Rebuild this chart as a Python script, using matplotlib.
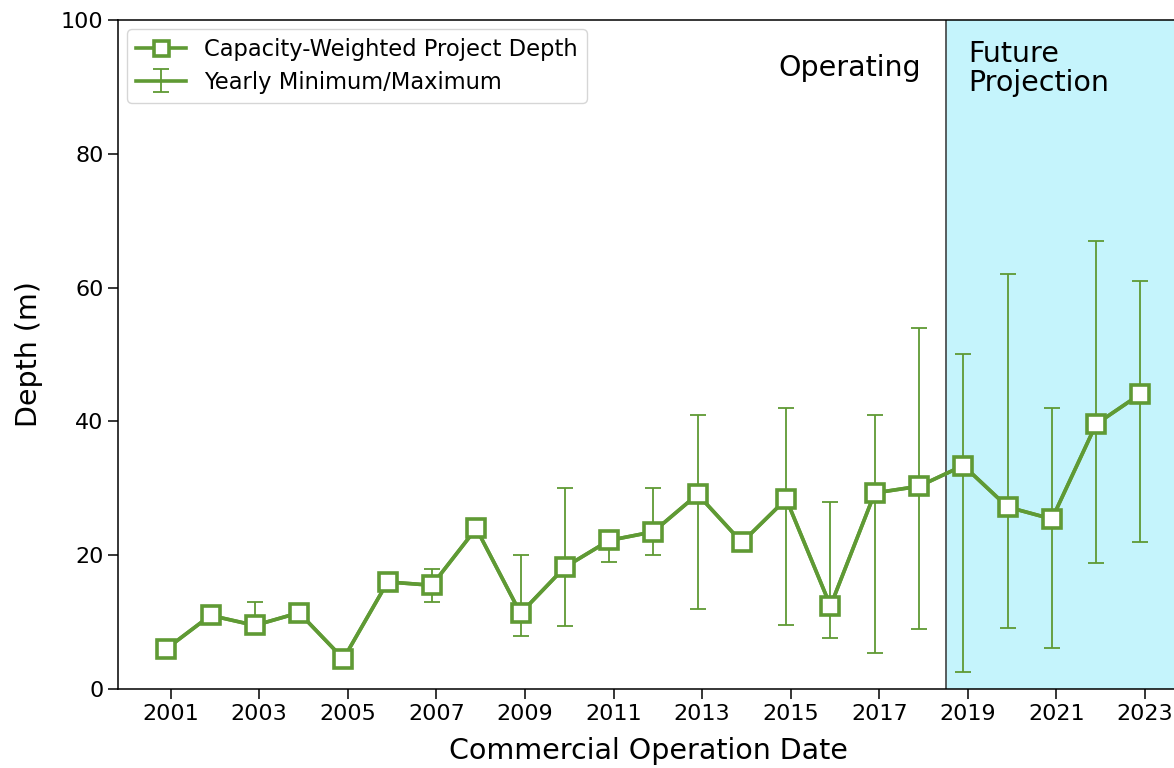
import matplotlib.pyplot as plt
import numpy as np

# capacity-weighted depth per commercial operation year
years = [2001, 2002, 2003, 2004, 2005, 2006, 2007, 2008, 2009, 2010, 2011, 2012,
         2013, 2014, 2015, 2016, 2017, 2018, 2019, 2020, 2021, 2022, 2023]
depth = [6.0, 11.0, 9.5, 11.4, 4.5, 16.0, 15.5, 24.0, 11.3, 18.2, 22.2, 23.5,
         29.1, 21.9, 28.4, 12.4, 29.3, 30.3, 33.4, 27.2, 25.4, 39.6, 44.1]
depth_min = [6.0, 11.0, 9.0, 11.4, 4.5, 16.0, 13.0, 24.0, 7.9, 9.4, 19.0, 20.0,
             11.9, 21.9, 9.5, 7.6, 5.4, 9.0, 2.6, 9.1, 6.1, 18.8, 22.0]
depth_max = [6.0, 11.0, 13.0, 11.4, 4.5, 16.0, 18.0, 24.0, 20.0, 30.0, 23.0, 30.0,
             41.0, 21.9, 42.0, 28.0, 41.0, 54.0, 50.0, 62.0, 42.0, 67.0, 61.0]
split_year = 2018.5

green = '#5f9a34'

x = np.array(years) - 0.1
y = np.array(depth)
err = [y - np.array(depth_min), np.array(depth_max) - y]

fig = plt.figure(figsize=(11.74, 7.68), dpi=100)
ax = fig.add_axes([0.1005, 0.1029, 0.903, 0.8711])

ax.axvspan(split_year, 2030, color='#c5f4fc', zorder=0)
ax.axvline(split_year, color='#333333', lw=1.1, zorder=1)

eb = ax.errorbar(x, y, yerr=err, fmt='-', color=green, lw=2.6, ecolor=green,
                 elinewidth=1.3, capsize=6, capthick=1.3, zorder=2)
ln, = ax.plot(x, y, color=green, lw=2.6, marker='s', markersize=13.5,
              markerfacecolor='white', markeredgecolor=green, markeredgewidth=2.6,
              zorder=3)

ax.text(0.7575, 0.928, 'Operating', transform=ax.transAxes, fontsize=20.5,
        ha='right', va='center')
ax.text(0.802, 0.928, 'Future\nProjection', transform=ax.transAxes, fontsize=20.5,
        ha='left', va='center', linespacing=1.05)

ax.set_xlim(1999.81, 2023.75)
ax.set_ylim(0, 100)
ax.set_xticks(range(2001, 2024, 2))
ax.set_yticks(range(0, 101, 20))
ax.tick_params(labelsize=16, length=7, width=1.1)
for s in ax.spines.values():
    s.set_linewidth(1.1)
ax.set_xlabel('Commercial Operation Date', fontsize=20.5, labelpad=10)
ax.set_ylabel('Depth (m)', fontsize=20.5, labelpad=13)

leg = ax.legend([ln, eb], ['Capacity-Weighted Project Depth', 'Yearly Minimum/Maximum'],
                loc='upper left', fontsize=16.3, markerscale=0.8,
                borderaxespad=0.4, handlelength=2.2, labelspacing=0.42,
                borderpad=0.4)
leg.get_frame().set_edgecolor('#cccccc')

fig.savefig('out.png', dpi=100)
